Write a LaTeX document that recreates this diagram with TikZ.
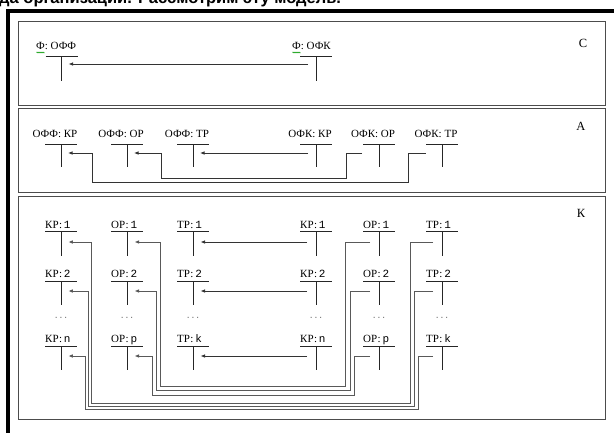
\documentclass[tikz,border=0pt]{standalone}
\usepackage{fontspec}
\setmainfont{Liberation Serif}
\setsansfont{Liberation Sans}
\setmonofont{Liberation Mono}
\usetikzlibrary{arrows.meta,decorations.pathmorphing}
\newcommand\teeshape[4]{% name, x, bar y, bottom y
  \coordinate (#1-t) at (#2,#3);
  \coordinate (#1-b) at (#2,#4);
  \draw[barline] (#2-16,#3) -- (#2+16,#3);
  \draw[barline] (#1-t) -- (#1-b);
}
\begin{document}
\begin{tikzpicture}[x=1pt,y=-1pt,
  panel/.style={draw=black!70, line width=1pt},
  barline/.style={line width=0.9pt, draw=black!85},
  arr/.style={-{Latex[length=4.5pt,width=3.6pt]}, line width=0.8pt, draw=black!80},
  wire/.style={-{Latex[length=4.5pt,width=3.6pt]}, line width=0.9pt, draw=black!65},
  lbl/.style={font=\fontsize{11}{11}\selectfont, inner sep=0pt},
  plabel/.style={font=\fontsize{12.5}{12.5}\selectfont, inner sep=0pt},
  squig/.style={draw=green!60!black, line width=0.5pt, decorate, decoration={zigzag, amplitude=0.6pt, segment length=2pt}},
  dotsl/.style={font=\fontsize{8}{8}\selectfont\ttfamily, text=black!60, inner sep=0pt}
]
\useasboundingbox (0,0) rectangle (614,432);
\fill[white] (0,0) rectangle (614,432);
% clipped heading text
\begin{scope}
\clip (0,0) rectangle (614,432);
\node[anchor=base west, inner sep=0pt, font=\sffamily\bfseries\fontsize{16.5}{16.5}\selectfont] (heading) at (-1,3) {да организации. Рассмотрим эту модель.};
\end{scope}
% thick frame
\draw[line width=4pt, line join=miter] (8.3,434) -- (8.3,11) -- (616,11);

% ---------------- Panel C
\draw[panel] (18,21) rectangle (605,105);
\node[plabel] (labC) at (583,43) {С};
\node[lbl, anchor=base west] (cOFFl) at (36,49.5) {Ф: ОФФ};
\node[lbl, anchor=base west] (cOFKl) at (292,49.5) {Ф: ОФК};
\draw[squig] (36.5,52.5) -- (44.5,52.5);
\draw[squig] (292.5,52.5) -- (300.5,52.5);
\teeshape{cOFF}{61.5}{56}{81}
\teeshape{cOFK}{316}{56}{81}
\coordinate (cOFK-o) at (308,64);
\coordinate (cOFF-i) at (68.5,64);
\draw[arr] (cOFK-o) -- (cOFF-i);

% ---------------- Panel A
\draw[panel] (18,108) rectangle (605,192);
\node[plabel] (labA) at (581,126) {А};
\foreach \nm/\xx/\tx in {aFK/61/{ОФФ: КР}, aFO/127/{ОФФ: ОР}, aFT/193/{ОФФ: ТР}, aKK/316/{ОФК: КР}, aKO/379/{ОФК: ОР}, aKT/442/{ОФК: ТР}}{
  \node[lbl, anchor=base] (\nm-l) at (\xx-6,137) {\tx};
  \teeshape{\nm}{\xx}{144}{167}
}
\coordinate (aKK-o) at (308,153);
\coordinate (aFT-i) at (200,153);
\draw[arr] (aKK-o) -- (aFT-i);
\coordinate (aKO-o) at (362,153);
\coordinate (aFO-i) at (134,153);
\draw[arr] (aKO-o) -- (346.7,153) -- (346.7,178.3) -- (161.7,178.3) -- (161.7,153) -- (aFO-i);
\coordinate (aKT-o) at (425.5,153);
\coordinate (aFK-i) at (68,153);
\draw[arr] (aKT-o) -- (408.3,153) -- (408.3,182.7) -- (92.7,182.7) -- (92.7,153) -- (aFK-i);

% ---------------- Panel K
\draw[panel] (18,196) rectangle (605,419);
\node[plabel] (labK) at (581,213) {К};
\foreach \rw/\bl/\by/\bb/\sp in {1/228/231/256/1, 2/277.5/281/305/2, 3/342/346/370/n}{
  \node[lbl, anchor=base west] (kFK\rw-l) at (45,\bl) {КР:\,{\ttfamily\sp}};
  \teeshape{kFK\rw}{61}{\by}{\bb}
  \node[lbl, anchor=base west] (kKK\rw-l) at (300,\bl) {КР:\,{\ttfamily\sp}};
  \teeshape{kKK\rw}{316}{\by}{\bb}
}
\foreach \rw/\bl/\by/\bb/\sp in {1/228/231/256/1, 2/277.5/281/305/2, 3/342/346/370/p}{
  \node[lbl, anchor=base west] (kFO\rw-l) at (111,\bl) {ОР:\,{\ttfamily\sp}};
  \teeshape{kFO\rw}{127}{\by}{\bb}
  \node[lbl, anchor=base west] (kKO\rw-l) at (363,\bl) {ОР:\,{\ttfamily\sp}};
  \teeshape{kKO\rw}{379}{\by}{\bb}
}
\foreach \rw/\bl/\by/\bb/\sp in {1/228/231/256/1, 2/277.5/281/305/2, 3/342/346/370/k}{
  \node[lbl, anchor=base west] (kFT\rw-l) at (177,\bl) {ТР:\,{\ttfamily\sp}};
  \teeshape{kFT\rw}{193}{\by}{\bb}
  \node[lbl, anchor=base west] (kKT\rw-l) at (426,\bl) {ТР:\,{\ttfamily\sp}};
  \teeshape{kKT\rw}{442}{\by}{\bb}
}
\foreach \xx/\nm in {61/d1, 127/d2, 193/d3, 316/d4, 379/d5, 442/d6}{
  \node[dotsl] (\nm) at (\xx,318) {...};
}
% direct arrows KR -> TR
\foreach \rw/\yy in {1/242, 2/291, 3/356}{
  \coordinate (kKK\rw-o) at (307,\yy);
  \coordinate (kFT\rw-i) at (200.5,\yy);
  \draw[arr] (kKK\rw-o) -- (kFT\rw-i);
}
% OR group
\foreach \rw/\yy/\xr/\yb/\xl in {1/242/345.7/386.7/160, 2/291/350/390.7/156.5, 3/356/354.2/395/152.7}{
  \coordinate (kKO\rw-o) at (370,\yy);
  \coordinate (kFO\rw-i) at (134.5,\yy);
  \draw[wire] (kKO\rw-o) -- (\xr,\yy) -- (\xr,\yb) -- (\xl,\yb) -- (\xl,\yy) -- (kFO\rw-i);
}
% TR group
\foreach \rw/\yy/\xr/\yb/\xl in {1/242/410/403.3/91.7, 2/291/414.2/406.2/88.3, 3/356/418.3/409.2/85}{
  \coordinate (kKT\rw-o) at (433,\yy);
  \coordinate (kFK\rw-i) at (68.3,\yy);
  \draw[wire] (kKT\rw-o) -- (\xr,\yy) -- (\xr,\yb) -- (\xl,\yb) -- (\xl,\yy) -- (kFK\rw-i);
}
\end{tikzpicture}
\end{document}
